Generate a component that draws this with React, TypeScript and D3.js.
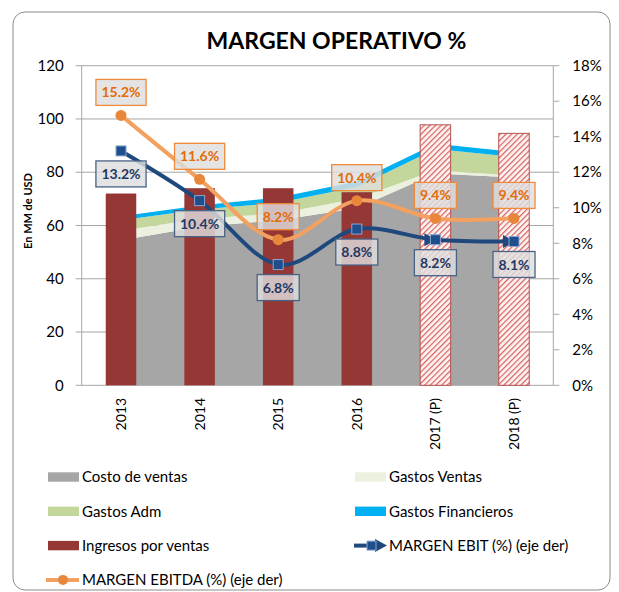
import { useRef, useEffect } from "react"
import * as d3 from "d3"

// categories and series (MM USD, % on right axis)
const categories = ["2013", "2014", "2015", "2016", "2017 (P)", "2018 (P)"]
const projected = [false, false, false, false, true, true]
const ingresos = [72, 74, 74, 72.5, 97.8, 94.6]
const costoVentas = [54.5, 59.5, 62, 66.5, 79.5, 78]
const gastosVentas = [3.5, 3, 2.5, 3.5, 1.2, 0.8]
const gastosAdm = [4, 3.5, 4, 4.5, 8, 7]
const gastosFinancieros = [1.5, 1.5, 2, 2, 2, 1.8]
const margenEbit = [13.2, 10.4, 6.8, 8.8, 8.2, 8.1]
const margenEbitda = [15.2, 11.6, 8.2, 10.4, 9.4, 9.4]
const leftTicks = [0, 20, 40, 60, 80, 100, 120]
const rightTicks = [0, 2, 4, 6, 8, 10, 12, 14, 16, 18]

const FONT = "Lato, 'Open Sans', sans-serif"

const App = () => {
  const svgRef = useRef<SVGSVGElement>(null)

  useEffect(() => {
    document.body.style.margin = "0"
    const svg = d3.select(svgRef.current)
    svg.selectAll("*").remove()

    const left = 81.7
    const right = 553.3
    const top = 65.7
    const bottom = 385.3

    const x = d3.scaleBand().domain(categories).range([left, right])
    const cx = (c: string) => (x(c) as number) + x.bandwidth() / 2
    const yL = d3.scaleLinear().domain([0, 120]).range([bottom, top])
    const yR = d3.scaleLinear().domain([0, 18]).range([bottom, top])

    // hatch pattern for projected bars (diagonal red stripes on white)
    const defs = svg.append("defs")
    const pat = defs
      .append("pattern")
      .attr("id", "hatchRed")
      .attr("patternUnits", "userSpaceOnUse")
      .attr("width", 4)
      .attr("height", 4)
      .attr("patternTransform", "rotate(45)")
    pat.append("rect").attr("width", 4).attr("height", 4).attr("fill", "#fdf4f4")
    pat.append("rect").attr("x", 0).attr("width", 1.2).attr("height", 4).attr("fill", "#d9605d")

    // outer frame
    svg
      .append("rect")
      .attr("x", 13)
      .attr("y", 12)
      .attr("width", 597)
      .attr("height", 578)
      .attr("rx", 12)
      .attr("fill", "#fff")
      .attr("stroke", "#8c8c8c")
      .attr("stroke-width", 1)

    // title
    svg
      .append("text")
      .attr("x", 336.5)
      .attr("y", 48.5)
      .attr("text-anchor", "middle")
      .style("font-family", FONT)
      .style("font-weight", "bold")
      .style("font-size", "23px")
      .text("MARGEN OPERATIVO %")

    // gridlines + left axis
    const grid = svg.append("g")
    grid
      .selectAll("line")
      .data(leftTicks)
      .enter()
      .append("line")
      .attr("x1", left - 6)
      .attr("x2", right)
      .attr("y1", (d) => yL(d))
      .attr("y2", (d) => yL(d))
      .attr("stroke", "#a6a6a6")
    grid
      .selectAll("text")
      .data(leftTicks)
      .enter()
      .append("text")
      .attr("x", left - 18)
      .attr("y", (d) => yL(d))
      .attr("dy", "0.35em")
      .attr("text-anchor", "end")
      .style("font-family", FONT)
      .style("font-size", "15px")
      .text((d) => d)
    grid
      .append("line")
      .attr("x1", left)
      .attr("x2", left)
      .attr("y1", top)
      .attr("y2", bottom)
      .attr("stroke", "#a6a6a6")

    // right axis
    const ra = svg.append("g")
    ra.append("line")
      .attr("x1", right)
      .attr("x2", right)
      .attr("y1", top)
      .attr("y2", bottom)
      .attr("stroke", "#a6a6a6")
    ra.selectAll("line.t")
      .data(rightTicks)
      .enter()
      .append("line")
      .attr("class", "t")
      .attr("x1", right)
      .attr("x2", right + 6)
      .attr("y1", (d) => yR(d))
      .attr("y2", (d) => yR(d))
      .attr("stroke", "#a6a6a6")
    ra.selectAll("text")
      .data(rightTicks)
      .enter()
      .append("text")
      .attr("x", right + 19)
      .attr("y", (d) => yR(d))
      .attr("dy", "0.35em")
      .style("font-family", FONT)
      .style("font-size", "15px")
      .text((d) => d + "%")

    // y axis title
    svg
      .append("text")
      .attr("transform", "translate(32,211) rotate(-90)")
      .attr("text-anchor", "middle")
      .style("font-family", FONT)
      .style("font-weight", "bold")
      .style("font-size", "11px")
      .text("En MM de USD")

    // category labels
    svg
      .append("g")
      .selectAll("text")
      .data(categories)
      .enter()
      .append("text")
      .attr("transform", (d) => `translate(${cx(d)},398) rotate(-90)`)
      .attr("dy", "0.35em")
      .attr("text-anchor", "end")
      .style("font-family", FONT)
      .style("font-size", "14px")
      .text((d) => d)

    // stacked areas
    const rows = categories.map((c, i) => ({
      cat: c,
      costo: costoVentas[i],
      ventas: gastosVentas[i],
      adm: gastosAdm[i],
      fin: gastosFinancieros[i],
    }))
    const keys = ["costo", "ventas", "adm", "fin"]
    const areaColors: Record<string, string> = {
      costo: "#a6a6a6",
      ventas: "#ebf1de",
      adm: "#c3d69b",
      fin: "#00b0f0",
    }
    const stacked = d3.stack<any>().keys(keys)(rows)
    const area = d3
      .area<any>()
      .x((d) => cx(d.data.cat))
      .y0((d) => yL(d[0]))
      .y1((d) => yL(d[1]))
    svg
      .append("g")
      .selectAll("path")
      .data(stacked)
      .enter()
      .append("path")
      .attr("d", area)
      .attr("fill", (d) => areaColors[d.key])

    // bars
    const barW = 30.5
    svg
      .append("g")
      .selectAll("rect")
      .data(categories)
      .enter()
      .append("rect")
      .attr("x", (d) => cx(d) - barW / 2)
      .attr("y", (d, i) => yL(ingresos[i]))
      .attr("width", barW)
      .attr("height", (d, i) => bottom - yL(ingresos[i]))
      .attr("fill", (d, i) => (projected[i] ? "url(#hatchRed)" : "#953735"))
      .attr("stroke", (d, i) => (projected[i] ? "#b5504e" : "none"))
      .attr("stroke-width", 1)

    const curve = d3.curveCardinal.tension(0)

    // EBITDA line
    const ebitdaLine = d3
      .line<number>()
      .x((d, i) => cx(categories[i]))
      .y((d) => yR(d))
      .curve(curve)
    svg
      .append("path")
      .datum(margenEbitda)
      .attr("d", ebitdaLine)
      .attr("fill", "none")
      .attr("stroke", "#f2a160")
      .attr("stroke-width", 4)

    // EBIT line
    const ebitLine = d3
      .line<number>()
      .x((d, i) => cx(categories[i]))
      .y((d) => yR(d))
      .curve(curve)
    svg
      .append("path")
      .datum(margenEbit)
      .attr("d", ebitLine)
      .attr("fill", "none")
      .attr("stroke", "#1f497d")
      .attr("stroke-width", 4)

    // arrow heads on projected EBIT segments
    svg
      .append("g")
      .selectAll("path")
      .data(margenEbit.map((v, i) => ({ v, i })).filter((d) => projected[d.i]))
      .enter()
      .append("path")
      .attr("transform", (d) => `translate(${cx(categories[d.i])},${yR(d.v)})`)
      .attr("d", "M-11,-6.5 L1,0 L-11,6.5 Z")
      .attr("fill", "#1f497d")

    // markers
    svg
      .append("g")
      .selectAll("circle")
      .data(margenEbitda)
      .enter()
      .append("circle")
      .attr("cx", (d, i) => cx(categories[i]))
      .attr("cy", (d) => yR(d))
      .attr("r", 5.5)
      .attr("fill", "#e8873a")
    svg
      .append("g")
      .selectAll("rect")
      .data(margenEbit)
      .enter()
      .append("rect")
      .attr("x", (d, i) => cx(categories[i]) - 5)
      .attr("y", (d) => yR(d) - 5)
      .attr("width", 10)
      .attr("height", 10)
      .attr("fill", "#1f4e8c")
      .attr("stroke", "#8aa6d0")
      .attr("stroke-width", 1)

    // data labels
    const addLabels = (vals: number[], dy: number, textColor: string, border: string) => {
      const g = svg.append("g")
      vals.forEach((v, i) => {
        const lx = cx(categories[i])
        const ly = yR(v) + dy
        const box = g.append("rect")
        const t = g
          .append("text")
          .attr("x", lx)
          .attr("y", ly)
          .attr("dy", "0.36em")
          .attr("text-anchor", "middle")
          .style("font-family", FONT)
          .style("font-weight", "bold")
          .style("font-size", "14px")
          .attr("fill", textColor)
          .text(v.toFixed(1) + "%")
        const w = (t.node() as SVGTextElement).getComputedTextLength() + 11
        box
          .attr("x", lx - w / 2)
          .attr("y", ly - 13)
          .attr("width", w)
          .attr("height", 26)
          .attr("fill", "rgba(222,222,222,0.82)")
          .attr("stroke", border)
          .attr("stroke-width", 1.3)
      })
    }
    addLabels(margenEbit, 23, "#1f3864", "#4a6285")
    addLabels(margenEbitda, -23, "#e36c09", "#f08a3c")

    // legend
    const legend = [
      { name: "Costo de ventas", type: "box", color: "#a6a6a6" },
      { name: "Gastos Ventas", type: "box", color: "#ebf1de" },
      { name: "Gastos Adm", type: "box", color: "#c3d69b" },
      { name: "Gastos Financieros", type: "box", color: "#00b0f0" },
      { name: "Ingresos por ventas", type: "box", color: "#953735" },
      { name: "MARGEN EBIT (%) (eje der)", type: "ebit", color: "#1f497d" },
      { name: "MARGEN EBITDA (%) (eje der)", type: "ebitda", color: "#f2a160" },
    ]
    const lg = svg.append("g")
    legend.forEach((d, i) => {
      const lx = i % 2 === 0 ? 48 : 355
      const ly = 477 + Math.floor(i / 2) * 34.3
      const item = lg.append("g").attr("transform", `translate(${lx},${ly})`)
      if (d.type === "box") {
        item.append("rect").attr("x", 0).attr("y", -4.7).attr("width", 31).attr("height", 9.4).attr("fill", d.color)
      } else if (d.type === "ebit") {
        item.append("line").attr("x1", -1).attr("x2", 14).attr("y1", 0).attr("y2", 0).attr("stroke", d.color).attr("stroke-width", 4)
        item.append("path").attr("d", "M20,-6.5 L32,0 L20,6.5 Z").attr("fill", d.color)
        item.append("rect").attr("x", 12).attr("y", -4.5).attr("width", 9).attr("height", 9).attr("fill", "#1f4e8c").attr("stroke", "#8aa6d0")
      } else {
        item.append("line").attr("x1", -2).attr("x2", 31).attr("y1", 0).attr("y2", 0).attr("stroke", d.color).attr("stroke-width", 4)
        item.append("circle").attr("cx", 15).attr("cy", 0).attr("r", 5).attr("fill", "#e8873a")
      }
      item
        .append("text")
        .attr("x", 34)
        .attr("y", 0)
        .attr("dy", "0.35em")
        .style("font-family", FONT)
        .style("font-size", "15px")
        .text(d.name)
    })
  }, [])

  return (
    <div>
      <svg ref={svgRef} width={619} height={592}></svg>
    </div>
  )
}

export default App
